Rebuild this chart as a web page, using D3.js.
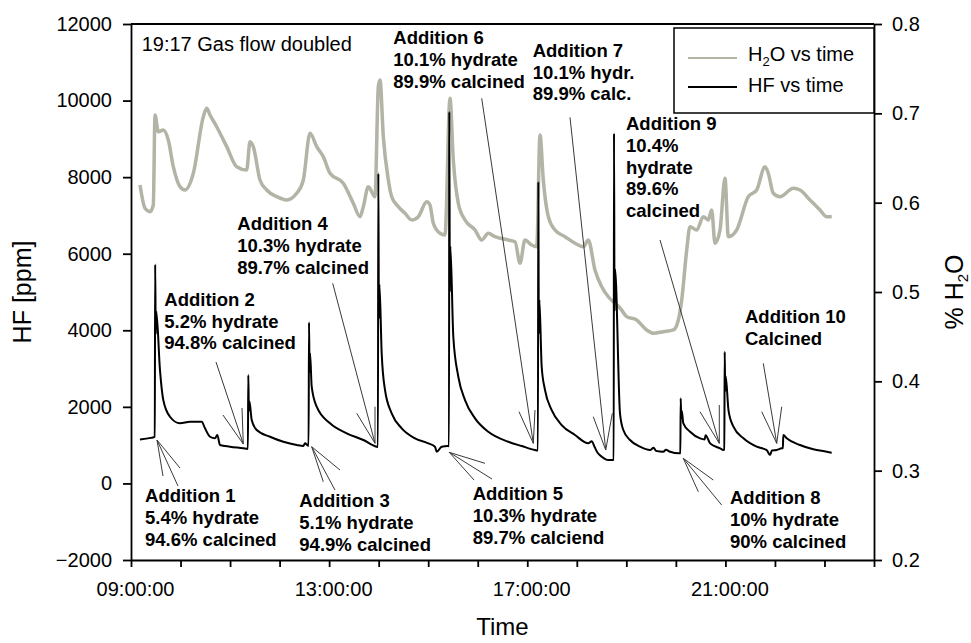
<!DOCTYPE html>
<html><head><meta charset="utf-8">
<script src="https://cdn.jsdelivr.net/npm/d3@7"></script>
<style>
body{margin:0;background:#fff;}
text{font-family:Arial,"Liberation Sans",sans-serif;}
</style>
</head><body>
<svg id="chart" width="971" height="643"></svg>
<script>
// ---------- data ----------
const xDomain = [9, 24];                 // hours of day
const xTickHours = [9,10,11,12,13,14,15,16,17,18,19,20,21,22,23,24];
const xLabelHours = [9, 13, 17, 21];
const xLabels = ["09:00:00", "13:00:00", "17:00:00", "21:00:00"];
const hfTicks = [-2000, 0, 2000, 4000, 6000, 8000, 10000, 12000];
const h2oTicks = [0.2, 0.3, 0.4, 0.5, 0.6, 0.7, 0.8];

// HF [ppm] vs time (hours)
const hfPoints = [
[9.18,1150],[9.40,1190],[9.48,1215],[9.488,5720],[9.50,3900],[9.51,4500],[9.585,2960],[9.652,2180],
[9.787,1742],[9.989,1570],[10.191,1612],[10.427,1612],[10.494,1439],[10.595,1220],[10.696,1178],
[10.742,1264],[10.797,1003],[10.999,959],[11.267,917],[11.36,900],[11.368,2830],[11.38,1900],
[11.39,2150],[11.437,1656],[11.538,1395],[11.806,1220],[12.075,1089],[12.345,1003],[12.479,977],
[12.513,1047],[12.57,990],[12.585,980],[12.594,4208],[12.605,2900],[12.615,3400],[12.648,2526],
[12.749,2003],[13.018,1570],[13.355,1309],[13.690,1134],[13.960,959],[13.985,950],[13.993,8100],
[14.005,4300],[14.015,5200],[14.061,3398],[14.128,2440],[14.263,1831],[14.465,1439],[14.734,1178],
[15.002,1047],[15.137,959],[15.172,828],[15.273,959],[15.394,977],[15.42,970],[15.426,9709],
[15.437,5000],[15.447,6200],[15.507,3832],[15.608,2787],[15.743,2178],[15.945,1700],[16.213,1350],
[16.617,1089],[16.888,977],[17.156,872],[17.215,860],[17.223,7880],[17.234,3900],[17.244,4800],
[17.291,3048],[17.358,2440],[17.493,1917],[17.695,1525],[17.964,1264],[18.232,1047],[18.30,1100],
[18.36,950],[18.42,800],[18.503,697],[18.636,611],[18.717,611],[18.745,615],[18.751,9145],[18.762,4500],
[18.772,5600],[18.872,1831],[18.939,1395],[19.074,1134],[19.276,959],[19.478,872],[19.55,930],
[19.60,850],[19.747,828],[19.80,880],[19.882,828],[20.070,786],[20.09,790],[20.098,2223],[20.108,1700],
[20.118,1900],[20.151,1570],[20.287,1350],[20.489,1178],[20.58,1150],[20.60,1260],[20.691,1047],
[20.893,917],[20.958,872],[20.978,880],[20.986,3440],[20.996,2400],[21.006,2800],[21.062,1917],
[21.162,1481],[21.364,1178],[21.632,959],[21.834,872],[21.901,742],[21.94,860],[22.036,872],
[22.137,917],[22.160,920],[22.169,1264],[22.237,1178],[22.505,1003],[22.774,891],[23.045,828],
[23.146,802]
];

// % H2O vs time (hours)
const h2oPoints = [
[9.182,0.6198],[9.283,0.5937],[9.384,0.5899],[9.450,0.5974],[9.485,0.6981],[9.551,0.6794],
[9.652,0.6813],[9.753,0.6701],[9.854,0.6403],[9.989,0.6179],[10.090,0.6142],[10.258,0.6329],
[10.460,0.6962],[10.528,0.7056],[10.595,0.6981],[10.730,0.6850],[10.932,0.6627],[11.134,0.6403],
[11.336,0.6366],[11.402,0.6683],[11.469,0.6627],[11.604,0.6254],[11.740,0.6142],[11.942,0.6067],
[12.143,0.6030],[12.345,0.6105],[12.479,0.6254],[12.614,0.6776],[12.749,0.6627],[12.882,0.6515],
[13.018,0.6329],[13.286,0.6217],[13.488,0.5993],[13.623,0.5843],[13.690,0.5955],[13.791,0.6179],
[13.926,0.6067],[13.993,0.7298],[14.027,0.7373],[14.094,0.6739],[14.195,0.6254],[14.263,0.6067],
[14.396,0.5955],[14.532,0.5881],[14.667,0.5806],[14.800,0.5843],[14.970,0.6011],[15.036,0.5974],
[15.103,0.5769],[15.238,0.5657],[15.339,0.5638],[15.440,0.7168],[15.507,0.6478],[15.608,0.5993],
[15.743,0.5806],[15.945,0.5694],[16.080,0.5582],[16.213,0.5657],[16.349,0.5619],[16.617,0.5582],
[16.753,0.5563],[16.853,0.5321],[16.954,0.5582],[17.089,0.5526],[17.191,0.5507],[17.257,0.6758],
[17.324,0.6254],[17.425,0.5843],[17.560,0.5694],[17.762,0.5619],[17.964,0.5545],[18.131,0.5507],
[18.232,0.5582],[18.367,0.5246],[18.503,0.5059],[18.636,0.4947],[18.771,0.4874],[18.872,0.4821],
[19.007,0.4724],[19.209,0.4687],[19.411,0.4575],[19.545,0.4538],[19.747,0.4556],[19.949,0.4575],
[20.050,0.4687],[20.118,0.4911],[20.219,0.5470],[20.285,0.5731],[20.421,0.5694],[20.554,0.5843],
[20.655,0.5806],[20.723,0.5918],[20.790,0.5545],[20.891,0.5694],[20.992,0.6273],[21.059,0.5619],
[21.228,0.5694],[21.462,0.6067],[21.632,0.6142],[21.800,0.6403],[21.866,0.6329],[21.967,0.6105],
[22.102,0.6067],[22.371,0.6161],[22.506,0.6142],[22.708,0.6030],[22.910,0.5918],[23.045,0.5843],
[23.146,0.5843]
];

// annotations (positions in data units: [hour, HF ppm])
const annoLabels = [
  ["Addition 1","5.4% hydrate","94.6% calcined"],
  ["Addition 2","5.2% hydrate","94.8% calcined"],
  ["Addition 3","5.1% hydrate","94.9% calcined"],
  ["Addition 4","10.3% hydrate","89.7% calcined"],
  ["Addition 5","10.3% hydrate","89.7% calciend"],
  ["Addition 6","10.1% hydrate","89.9% calcined"],
  ["Addition 7","10.1% hydr.","89.9% calc."],
  ["Addition 8","10% hydrate","90% calcined"],
  ["Addition 9","10.4%","hydrate","89.6%","calcined"],
  ["Addition 10","Calcined"]
];
const annoText  = [[9.283,-494],[9.672,4642],[12.398,-624],[11.146,6619],[15.898,-434],[14.295,11477],[17.110,11145],[21.093,-538],[18.993,9231],[21.396,4182]];
const annoTip   = [[9.525,1134],[11.267,1029],[12.648,959],[13.926,1047],[15.426,812],[17.122,1047],[18.584,872],[20.150,656],[20.877,1047],[22.036,1047]];
const annoShaft = [[9.949,-68],[10.716,3171],[13.118,-172],[13.072,5227],[16.288,115],[16.080,10059],[17.863,9563],[20.925,-564],[19.680,6358],[21.765,3137]];
const annoBarbA = [[9.646,193],[10.857,1787],[12.882,44],[13.557,1831],[16.147,525],[16.833,1873],[18.333,1742],[20.453,-217],[20.487,1873],[21.733,1873]];
const annoBarbB = [[9.989,402],[11.241,1969],[13.219,350],[13.926,2003],[15.925,89],[17.156,1917],[18.717,1831],[20.756,89],[20.877,2048],[22.137,2003]];
const noteText = "19:17 Gas flow doubled";
const notePos = [9.216, 11302];

// ---------- layout ----------
const svg = d3.select("#chart");
const L = 131, R = 874, T = 24, B = 560;
const x = d3.scaleLinear().domain(xDomain).range([L, R]);
const yHF = d3.scaleLinear().domain([-2000, 12000]).range([B, T]);
const yW = d3.scaleLinear().domain([0.2, 0.8]).range([B, T]);

const H2O_COLOR = "#b3b3a6";

// lines
const lineW = d3.line().curve(d3.curveMonotoneX).x(d => x(d[0])).y(d => yW(d[1]));
const lineHF = d3.line().curve(d3.curveMonotoneX).x(d => x(d[0])).y(d => yHF(d[1]));
svg.append("path").datum(h2oPoints).attr("d", lineW)
  .attr("fill","none").attr("stroke",H2O_COLOR).attr("stroke-width",3.5).attr("stroke-linejoin","round");
svg.append("path").datum(hfPoints).attr("d", lineHF)
  .attr("fill","none").attr("stroke","#000").attr("stroke-width",2).attr("stroke-linejoin","miter");

// annotations
const ag = svg.append("g");
annoLabels.forEach((lines, i) => {
  const tip = annoTip[i];
  [annoShaft[i], annoBarbA[i], annoBarbB[i]].forEach(p => {
    ag.append("line")
      .attr("x1", x(tip[0])).attr("y1", yHF(tip[1]))
      .attr("x2", x(p[0])).attr("y2", yHF(p[1]))
      .attr("stroke", "#3a3a3a").attr("stroke-width", 1);
  });
  const t = ag.append("text")
    .attr("x", x(annoText[i][0])).attr("y", yHF(annoText[i][1]))
    .attr("font-size", 18.5).attr("font-weight", "bold").attr("fill","#000");
  lines.forEach((s, j) => {
    t.append("tspan").attr("x", x(annoText[i][0])).attr("dy", j === 0 ? 0 : 21.8).text(s);
  });
});
svg.append("text").attr("x", x(notePos[0])).attr("y", yHF(notePos[1]))
  .attr("font-size", 20).text(noteText);

// axes
const axStroke = 1.8;
const gB = svg.append("g").attr("transform", `translate(0,${B})`)
  .call(d3.axisBottom(x).tickValues(xTickHours).tickSize(7).tickSizeOuter(0).tickPadding(15)
    .tickFormat(h => { const k = xLabelHours.indexOf(h); return k >= 0 ? xLabels[k] : ""; }));
const gL = svg.append("g").attr("transform", `translate(${L},0)`)
  .call(d3.axisLeft(yHF).tickValues(hfTicks).tickSize(8).tickSizeOuter(0).tickPadding(11).tickFormat(d3.format("d")));
const gR = svg.append("g").attr("transform", `translate(${R},0)`)
  .call(d3.axisRight(yW).tickValues(h2oTicks).tickSize(8).tickSizeOuter(0).tickPadding(10).tickFormat(d3.format(".1f")));
[gB, gL, gR].forEach(g => {
  g.selectAll("path.domain").attr("stroke","#000").attr("stroke-width",axStroke);
  g.selectAll(".tick line").attr("stroke","#000").attr("stroke-width",axStroke);
  g.selectAll(".tick text").attr("font-size",20).attr("fill","#000")
    .attr("font-family","Arial, 'Liberation Sans', sans-serif");
});
gB.selectAll(".tick text").attr("dx", 4);
// top frame
svg.append("line").attr("x1", L).attr("x2", R).attr("y1", T).attr("y2", T)
  .attr("stroke","#000").attr("stroke-width",axStroke);

// axis titles
svg.append("text").attr("x", (L+R)/2).attr("y", 635).attr("text-anchor","middle")
  .attr("font-size",24).text("Time");
svg.append("text").attr("transform", `translate(31,${(T+B)/2}) rotate(-90)`)
  .attr("text-anchor","middle").attr("font-size",25).text("HF [ppm]");
const rt = svg.append("text").attr("transform", `translate(963,${(T+B)/2}) rotate(-90)`)
  .attr("text-anchor","middle").attr("font-size",25);
rt.append("tspan").text("% H");
rt.append("tspan").attr("font-size",15).attr("dy",5).text("2");
rt.append("tspan").attr("dy",-5).text("O");

// legend
const lg = svg.append("g").attr("transform", `translate(${R-200},28)`);
lg.append("rect").attr("width",200).attr("height",85).attr("fill","#fff")
  .attr("stroke","#000").attr("stroke-width",1.5);
lg.append("line").attr("x1",14).attr("x2",63).attr("y1",30).attr("y2",30)
  .attr("stroke",H2O_COLOR).attr("stroke-width",2);
lg.append("line").attr("x1",14).attr("x2",63).attr("y1",59).attr("y2",59)
  .attr("stroke","#000").attr("stroke-width",2);
const l1 = lg.append("text").attr("x",74).attr("y",33).attr("font-size",20);
l1.append("tspan").text("H");
l1.append("tspan").attr("font-size",13).attr("dy",5).text("2");
l1.append("tspan").attr("dy",-5).text("O vs time");
lg.append("text").attr("x",74).attr("y",64).attr("font-size",20).text("HF vs time");
</script>
</body></html>
